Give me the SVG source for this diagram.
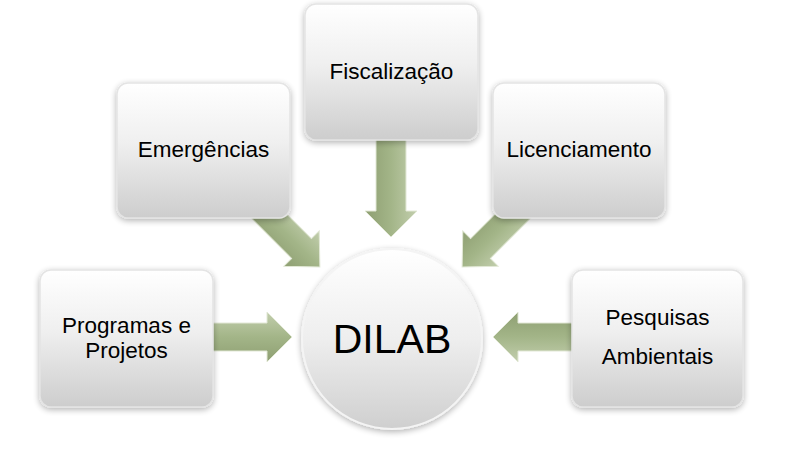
<svg xmlns="http://www.w3.org/2000/svg" width="800" height="450" viewBox="0 0 800 450">
<defs>
<linearGradient id="boxg" x1="0" y1="0" x2="0" y2="1">
<stop offset="0" stop-color="#ffffff"/>
<stop offset="0.45" stop-color="#efefef"/>
<stop offset="1" stop-color="#cdcdcd"/>
</linearGradient>
<linearGradient id="circg" x1="0" y1="0" x2="0" y2="1">
<stop offset="0" stop-color="#ffffff"/>
<stop offset="0.5" stop-color="#eeeeee"/>
<stop offset="1" stop-color="#cfcfcf"/>
</linearGradient>
<linearGradient id="arrg" x1="0" y1="0" x2="0" y2="1">
<stop offset="0" stop-color="#c2cead"/>
<stop offset="0.5" stop-color="#a3b588"/>
<stop offset="1" stop-color="#8e9f72"/>
</linearGradient>
<filter id="sh" x="-20%" y="-20%" width="140%" height="140%">
<feGaussianBlur in="SourceAlpha" stdDeviation="3"/>
<feOffset dx="0" dy="2" result="b"/>
<feComponentTransfer><feFuncA type="linear" slope="0.3"/></feComponentTransfer>
<feMerge><feMergeNode/><feMergeNode in="SourceGraphic"/></feMerge>
</filter>
</defs>
<style>
.box{fill:url(#boxg);stroke:#e4e4e4;stroke-width:1.5;filter:url(#sh)}
.circ{fill:url(#circg);stroke:#f4f4f4;stroke-width:2;filter:url(#sh)}
.arr{fill:url(#arrg);stroke:#e2e8d6;stroke-width:1}
.t{font-family:"Liberation Sans",Arial,sans-serif;font-size:22.5px;fill:#000;text-anchor:middle}
.big{font-family:"Liberation Sans",Arial,sans-serif;font-size:41px;fill:#000;text-anchor:middle}
</style>
<rect width="800" height="450" fill="#ffffff"/>
<g id="connectors">
<path class="arr" transform="translate(391,130) rotate(90)" d="M0,-15 H81 V-26 L107,0 L81,26 V15 H0 Z"/>
<path class="arr" transform="translate(240,187) rotate(45)" d="M0,-14 H87 V-25 L113,0 L87,25 V14 H0 Z"/>
<path class="arr" transform="translate(542,187) rotate(135)" d="M0,-14 H87 V-25 L113,0 L87,25 V14 H0 Z"/>
<path class="arr" transform="translate(200,337)" d="M0,-14 H67 V-25 L92,0 L67,25 V14 H0 Z"/>
<path class="arr" transform="translate(585,337) rotate(180)" d="M0,-14 H67 V-25 L92,0 L67,25 V14 H0 Z"/>
</g>
<g id="fiscalizacao">
<rect class="box" x="305" y="4" width="173" height="136" rx="11"/>
<text class="t" x="391.5" y="79">Fiscalização</text>
</g>
<g id="emergencias">
<rect class="box" x="117" y="83" width="173" height="135" rx="11"/>
<text class="t" x="203.5" y="157">Emergências</text>
</g>
<g id="licenciamento">
<rect class="box" x="493" y="83" width="172" height="135" rx="11"/>
<text class="t" x="579" y="157">Licenciamento</text>
</g>
<g id="programas">
<rect class="box" x="40" y="270" width="173" height="137" rx="11"/>
<text class="t" x="126.5" y="333">Programas e</text>
<text class="t" x="126.5" y="358">Projetos</text>
</g>
<g id="pesquisas">
<rect class="box" x="572" y="270" width="171" height="137" rx="11"/>
<text class="t" x="657.5" y="325">Pesquisas</text>
<text class="t" x="657.5" y="364">Ambientais</text>
</g>
<g id="dilab">
<circle class="circ" cx="392" cy="339" r="90"/>
<text class="big" x="392" y="353">DILAB</text>
</g>
</svg>
